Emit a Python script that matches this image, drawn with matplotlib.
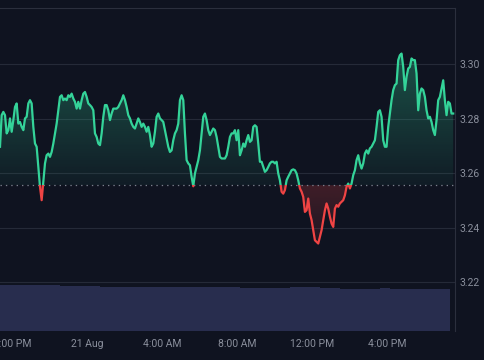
import matplotlib
matplotlib.use('Agg')
import matplotlib.pyplot as plt
import matplotlib.dates as mdates
from matplotlib.patches import Rectangle
from matplotlib.path import Path
import numpy as np
import pandas as pd

# ===== DATA =====
start_time = "2024-08-20 19:21:36"
step = "320s"

price = [
    3.2697, 3.2813, 3.2825, 3.2813, 3.2746, 3.2758, 3.2801, 3.2752, 3.2795, 3.2843,
    3.2856, 3.2782, 3.2788, 3.2770, 3.2758, 3.2801, 3.2807, 3.2856, 3.2868, 3.2856,
    3.2770, 3.2709, 3.2697, 3.2623, 3.2550, 3.2501, 3.2568, 3.2636, 3.2666, 3.2672,
    3.2660, 3.2678, 3.2709, 3.2746, 3.2782, 3.2831, 3.2880, 3.2886, 3.2868, 3.2874,
    3.2868, 3.2886, 3.2880, 3.2892, 3.2874, 3.2862, 3.2837, 3.2862, 3.2837, 3.2868,
    3.2892, 3.2898, 3.2880, 3.2856, 3.2850, 3.2843, 3.2831, 3.2746, 3.2733, 3.2709,
    3.2703, 3.2746, 3.2807, 3.2850, 3.2850, 3.2831, 3.2795, 3.2819, 3.2837, 3.2837,
    3.2837, 3.2843, 3.2856, 3.2868, 3.2886, 3.2868, 3.2843, 3.2813, 3.2801, 3.2782,
    3.2770, 3.2764, 3.2782, 3.2801, 3.2788, 3.2770, 3.2782, 3.2770, 3.2752, 3.2770,
    3.2740, 3.2697, 3.2709, 3.2752, 3.2807, 3.2819, 3.2801, 3.2795, 3.2788, 3.2758,
    3.2727, 3.2697, 3.2678, 3.2684, 3.2721, 3.2746, 3.2758, 3.2782, 3.2868, 3.2886,
    3.2868, 3.2746, 3.2648, 3.2636, 3.2629, 3.2587, 3.2552, 3.2599, 3.2623, 3.2648,
    3.2684, 3.2746, 3.2807, 3.2819, 3.2795, 3.2758, 3.2740, 3.2752, 3.2764, 3.2758,
    3.2733, 3.2697, 3.2660, 3.2654, 3.2654, 3.2654, 3.2666, 3.2697, 3.2733, 3.2746,
    3.2746, 3.2758, 3.2721, 3.2758, 3.2666, 3.2684, 3.2709, 3.2697, 3.2721, 3.2740,
    3.2715, 3.2721, 3.2770, 3.2776, 3.2770, 3.2709, 3.2642, 3.2642, 3.2623, 3.2605,
    3.2611, 3.2623, 3.2636, 3.2642, 3.2642, 3.2636, 3.2642, 3.2599, 3.2574, 3.2532,
    3.2525, 3.2538, 3.2574, 3.2587, 3.2599, 3.2611, 3.2614, 3.2611, 3.2599, 3.2574,
    3.2544, 3.2532, 3.2513, 3.2458, 3.2464, 3.2507, 3.2452, 3.2428, 3.2391, 3.2354,
    3.2348, 3.2342, 3.2366, 3.2391, 3.2428, 3.2464, 3.2489, 3.2470, 3.2440, 3.2415,
    3.2403, 3.2470, 3.2483, 3.2477, 3.2489, 3.2495, 3.2501, 3.2519, 3.2550, 3.2562,
    3.2544, 3.2562, 3.2593, 3.2611, 3.2648, 3.2666, 3.2636, 3.2617, 3.2636, 3.2672,
    3.2684, 3.2672, 3.2691, 3.2697, 3.2709, 3.2721, 3.2770, 3.2825, 3.2831, 3.2807,
    3.2721, 3.2697, 3.2697, 3.2770, 3.2819, 3.2868, 3.2905, 3.2923, 3.2929, 3.3015,
    3.3033, 3.3039, 3.2990, 3.2905, 3.2954, 3.2984, 3.2990, 3.3021, 3.3015, 3.3015,
    3.2966, 3.2831, 3.2892, 3.2911, 3.2905, 3.2880, 3.2831, 3.2801, 3.2807, 3.2788,
    3.2758, 3.2740, 3.2795, 3.2868, 3.2880, 3.2911, 3.2941, 3.2868, 3.2813, 3.2862,
    3.2856, 3.2819, 3.2819,
]
prev_close = 3.2556

# volume buckets (million), one per 6 price points
volume = [
    4.60, 4.60, 4.60, 4.60, 4.60, 4.55, 4.50, 4.50, 4.50, 4.45,
    4.40, 4.40, 4.40, 4.35, 4.35, 4.35, 4.35, 4.35, 4.35, 4.35,
    4.35, 4.35, 4.35, 4.35, 4.30, 4.30, 4.30, 4.30, 4.30, 4.35,
    4.35, 4.35, 4.30, 4.25, 4.20, 4.15, 4.20, 4.20, 4.25, 4.20,
    4.15, 4.15, 4.15, 4.15, 4.15,
]
volume_bucket = "32min"

tick_times = ["2024-08-20 20:00", "2024-08-21 00:00", "2024-08-21 04:00",
              "2024-08-21 08:00", "2024-08-21 12:00", "2024-08-21 16:00"]
tick_labels = ["8:00 PM", "21 Aug", "4:00 AM", "8:00 AM", "12:00 PM", "4:00 PM"]
price_ticks = [3.22, 3.24, 3.26, 3.28, 3.30]

# ===== STYLE =====
BG = '#0f1320'
GREEN = '#34d399'
RED = '#ef4444'
VOL = '#282d4e'
GRID = '#252a38'
TEXT = '#8a8f9c'
plt.rcParams['font.family'] = ['Roboto', 'DejaVu Sans']

times = pd.date_range(start_time, periods=len(price), freq=step)
x = mdates.date2num(times)
y = np.array(price)
vol_times = mdates.date2num(pd.date_range(start_time, periods=len(volume), freq=volume_bucket))
bucket_w = pd.Timedelta(volume_bucket) / pd.Timedelta("1D")

x_left = mdates.date2num(pd.Timestamp(start_time))
x_right = mdates.date2num(pd.Timestamp("2024-08-21 19:37:48"))
y_low, y_high = 3.2021, 3.3206

fig = plt.figure(figsize=(4.85, 3.6), dpi=100, facecolor=BG)
ax_vol = fig.add_axes([0.0, 0.0806, 0.938, 0.897])
ax = fig.add_axes([0.0, 0.0806, 0.938, 0.897], sharex=ax_vol)
ax_vol.set_facecolor(BG)
ax.patch.set_visible(False)

# --- volume ---
ax_vol.bar(vol_times, volume, width=bucket_w, align='edge', color=VOL, linewidth=0)
ax_vol.set_ylim(0, 32.3)
ax_vol.axis('off')


def gradient_fill(ax, where, color, a_base, a_far, y_far):
    """Fill between the line and prev_close with a vertical alpha gradient."""
    coll = ax.fill_between(x, y, prev_close, where=where, interpolate=True,
                           facecolor='none', edgecolor='none')
    paths = coll.get_paths()
    if not paths:
        return
    clip = Path.make_compound_path(*paths)
    rgb = matplotlib.colors.to_rgb(color)
    n = 100
    img = np.zeros((n, 1, 4))
    img[:, 0, :3] = rgb
    lo, hi = sorted([prev_close, y_far])
    alphas = np.linspace(a_base, a_far, n) if y_far > prev_close else np.linspace(a_far, a_base, n)
    img[:, 0, 3] = alphas
    im = ax.imshow(img, extent=[x[0], x[-1], lo, hi], origin='lower',
                   aspect='auto', zorder=1, interpolation='bilinear')
    im.set_clip_path(clip, transform=ax.transData)


gradient_fill(ax, y >= prev_close, GREEN, 0.05, 0.33, y.max())
gradient_fill(ax, y <= prev_close, RED, 0.22, 0.06, y.min())

# --- line: green above prev close, red below ---
above = Rectangle((x[0] - 1, prev_close), x[-1] - x[0] + 2, 1, transform=ax.transData)
below = Rectangle((x[0] - 1, prev_close - 1), x[-1] - x[0] + 2, 1, transform=ax.transData)
line_g, = ax.plot(x, y, color=GREEN, lw=1.6, zorder=3, solid_joinstyle='round')
line_g.set_clip_path(above)
line_r, = ax.plot(x, y, color=RED, lw=1.6, zorder=3, solid_joinstyle='round')
line_r.set_clip_path(below)

ax.axhline(prev_close, color='#7a7f8c', lw=0.9, linestyle=(0, (1.1, 3.2)), zorder=2)

# ===== AXES =====
ax.set_xlim(x_left, x_right)
ax.set_ylim(y_low, y_high)
ax.yaxis.tick_right()
ax.set_yticks(price_ticks)
ax.set_yticklabels([f"{v:.2f}" for v in price_ticks])
ax.set_xticks(mdates.date2num(pd.to_datetime(tick_times)))
ax.set_xticklabels(tick_labels)
ax.tick_params(axis='both', length=0, labelcolor=TEXT, labelsize=7.5)
ax.tick_params(axis='y', pad=3.5)
ax.tick_params(axis='x', pad=6)
ax.grid(axis='y', color=GRID, lw=0.8, zorder=0)
ax.grid(axis='x', visible=False)
ax.set_axisbelow(True)
for side in ['left', 'bottom']:
    ax.spines[side].set_visible(False)
for side in ['top', 'right']:
    ax.spines[side].set_color('#2b2f3d')
    ax.spines[side].set_linewidth(0.8)

fig.savefig('out.png', dpi=100, facecolor=BG)
